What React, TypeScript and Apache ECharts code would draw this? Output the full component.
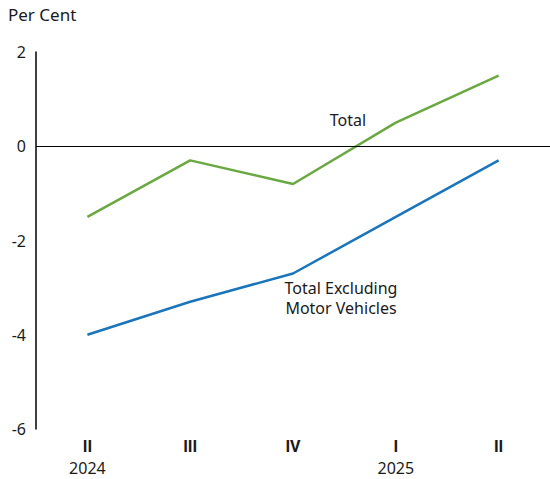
import React, { useEffect, useRef } from "react";
import * as echarts from "echarts";

// Quarterly growth, per cent
const quarters = ["II", "III", "IV", "I", "II"];
const years = ["2024", "", "", "2025", ""];
const total = [-1.5, -0.3, -0.8, 0.5, 1.5];
const totalExMotorVehicles = [-4.0, -3.3, -2.7, -1.5, -0.3];
const yTicks = { min: -6, max: 2, interval: 2 };

const FONT = "Noto Sans";
const BOLD_FONT = "Roboto";
const INK = "#1a1a1a";

export default function App() {
  const ref = useRef<HTMLDivElement>(null);

  useEffect(() => {
    if (!ref.current) return;
    const chart = echarts.init(ref.current, null, { renderer: "svg" });
    const hidden = { show: false };
    chart.setOption({
      animation: false,
      textStyle: { fontFamily: FONT },
      grid: { left: 36, right: 0, top: 52, bottom: 50 },
      xAxis: [
        {
          type: "category",
          data: quarters,
          boundaryGap: true,
          axisLine: hidden,
          axisTick: hidden,
          axisLabel: {
            margin: 9,
            interval: 0,
            fontFamily: BOLD_FONT,
            fontSize: 16,
            fontWeight: "bold",
            color: INK,
          },
        },
        {
          type: "category",
          data: years,
          position: "bottom",
          offset: 22,
          boundaryGap: true,
          axisLine: hidden,
          axisTick: hidden,
          axisLabel: {
            margin: 9,
            interval: 0,
            fontFamily: FONT,
            fontSize: 16,
            color: INK,
          },
        },
      ],
      yAxis: {
        type: "value",
        min: yTicks.min,
        max: yTicks.max,
        interval: yTicks.interval,
        axisLine: { show: true, lineStyle: { color: "#000", width: 1.5 } },
        axisTick: hidden,
        splitLine: hidden,
        axisLabel: { margin: 10, fontSize: 16, color: INK, fontFamily: FONT },
      },
      series: [
        {
          name: "Total",
          type: "line",
          data: total,
          symbol: "none",
          lineStyle: { color: "#6aa842", width: 2.5 },
          markLine: {
            silent: true,
            symbol: "none",
            label: { show: false },
            lineStyle: { color: "#000", width: 1, type: "solid" },
            data: [{ yAxis: 0 }],
          },
        },
        {
          name: "Total Excluding Motor Vehicles",
          type: "line",
          data: totalExMotorVehicles,
          symbol: "none",
          lineStyle: { color: "#1b75bb", width: 2.5 },
        },
      ],
      graphic: [
        {
          type: "text",
          left: 8,
          top: 6,
          style: { text: "Per Cent", fontSize: 17, fill: INK, fontFamily: FONT },
        },
        {
          type: "text",
          x: 348,
          y: 120,
          style: {
            text: "Total",
            fontSize: 16,
            fill: INK,
            fontFamily: FONT,
            align: "center",
            verticalAlign: "middle",
          },
        },
        {
          type: "text",
          x: 341,
          y: 298,
          style: {
            text: "Total Excluding\nMotor Vehicles",
            fontSize: 16,
            lineHeight: 20,
            fill: INK,
            fontFamily: FONT,
            align: "center",
            verticalAlign: "middle",
          },
        },
      ],
    });
    return () => chart.dispose();
  }, []);

  return (
    <div
      ref={ref}
      style={{ position: "fixed", left: 0, top: 0, width: 550, height: 479, background: "#fff" }}
    />
  );
}
